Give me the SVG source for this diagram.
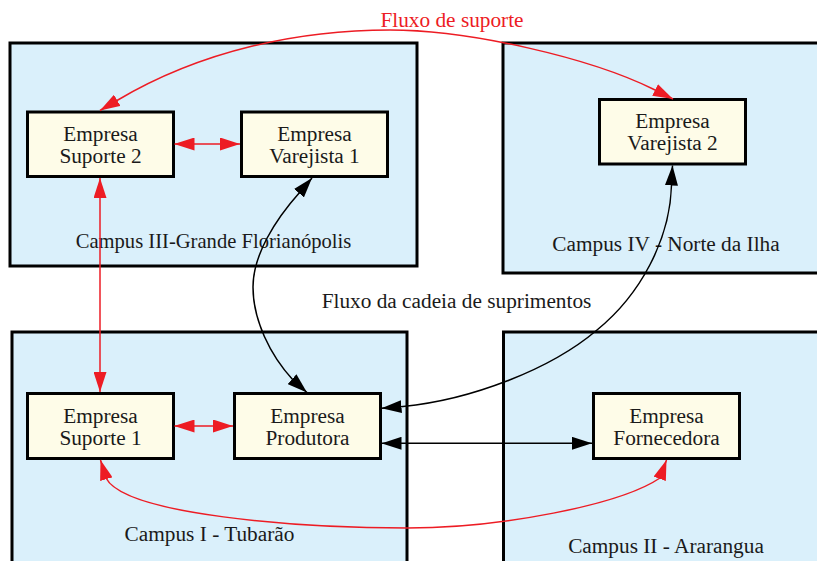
<svg xmlns="http://www.w3.org/2000/svg" width="817" height="561" viewBox="0 0 817 561">
<style>
.cl{fill:#daf0fb;stroke:#000;stroke-width:3}
.nd{fill:#fefce8;stroke:#000;stroke-width:3}
text{font-family:"Liberation Serif","Times New Roman",serif;font-size:21.3px;fill:#1a1a1a;text-anchor:middle}
.rl{fill:#ed1c24}
.er{fill:none;stroke:#ed1c24;stroke-width:1.5;marker-start:url(#ar);marker-end:url(#ar)}
.eb{fill:none;stroke:#000;stroke-width:1.5;marker-start:url(#ab);marker-end:url(#ab)}
</style>
<defs>
<marker id="ar" markerUnits="userSpaceOnUse" markerWidth="20" markerHeight="13" refX="20" refY="6.5" orient="auto-start-reverse"><path d="M0,0 L20,6.5 L0,13 z" fill="#ed1c24"/></marker>
<marker id="ab" markerUnits="userSpaceOnUse" markerWidth="20" markerHeight="13" refX="20" refY="6.5" orient="auto-start-reverse"><path d="M0,0 L20,6.5 L0,13 z" fill="#000"/></marker>
</defs>
<rect width="817" height="561" fill="#fff"/>
<g id="cluster3"><rect class="cl" x="10" y="43" width="407" height="223"/><text x="213.5" y="247.5" style="font-size:20.6px">Campus III-Grande Florianópolis</text></g>
<g id="cluster4"><rect class="cl" x="503" y="43" width="330" height="230"/><text x="666" y="251">Campus IV - Norte da Ilha</text></g>
<g id="cluster1"><rect class="cl" x="12" y="332" width="395" height="240"/><text x="209.5" y="541">Campus I - Tubarão</text></g>
<g id="cluster2"><rect class="cl" x="503.5" y="332" width="330" height="240"/><text x="666" y="553">Campus II - Ararangua</text></g>
<g id="suporte2"><rect class="nd" x="27.5" y="112" width="146" height="64.5"/><text x="100.5" y="140.7">Empresa</text><text x="100.5" y="162.7">Suporte 2</text></g>
<g id="varejista1"><rect class="nd" x="241.5" y="112" width="146" height="64.5"/><text x="314.5" y="140.7">Empresa</text><text x="314.5" y="162.7">Varejista 1</text></g>
<g id="varejista2"><rect class="nd" x="599.5" y="99.5" width="146" height="64.5"/><text x="672.5" y="128.3">Empresa</text><text x="672.5" y="150.3">Varejista 2</text></g>
<g id="suporte1"><rect class="nd" x="27.5" y="393.5" width="146" height="65"/><text x="100.5" y="422.8">Empresa</text><text x="100.5" y="444.5">Suporte 1</text></g>
<g id="produtora"><rect class="nd" x="234.5" y="393.5" width="146" height="65"/><text x="307.5" y="422.8">Empresa</text><text x="307.5" y="444.5">Produtora</text></g>
<g id="fornecedora"><rect class="nd" x="593.5" y="393.5" width="146" height="65"/><text x="666.5" y="422.8">Empresa</text><text x="666.5" y="444.5">Fornecedora</text></g>
<g id="connectors">
<path class="er" d="M174.5,144 L240,144"/>
<path class="er" d="M100,178 L100,392"/>
<path class="er" d="M174.5,426 L233,426"/>
<path class="er" d="M100,110.5 L117,100.5 C202,50 300,30 390,30 C470,30 590,58 653,89 L673,99"/>
<path class="er" d="M100.5,460 L106,478 C125,515 300,528 407,528 C500,528 620,505 660,478 L666.5,460"/>
<path class="eb" d="M312,178 L300,192 C275,220 253,255 253,287 C253,320 270,355 293,380 L307,392.5"/>
<path class="eb" d="M672.5,165.5 L671.5,185 C670,240 640,295 597,330 C550,370 470,400 403,406.5 L381.5,408.3"/>
<path class="eb" d="M381.5,443.3 L592,443.3"/>
<text class="rl" x="452" y="27.3">Fluxo de suporte</text>
<text x="456.5" y="308.3">Fluxo da cadeia de suprimentos</text>
</g>
</svg>
